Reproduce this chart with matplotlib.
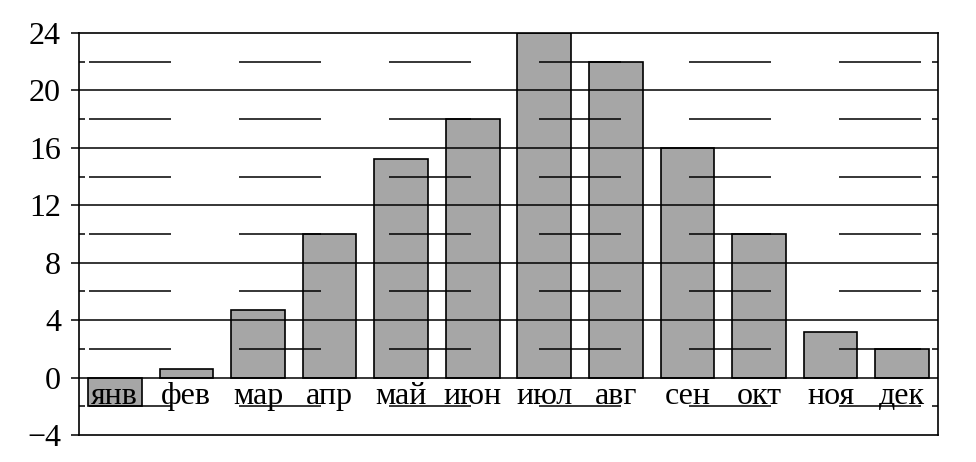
import matplotlib
matplotlib.use("Agg")
import matplotlib.pyplot as plt
import numpy as np

plt.rcParams['font.family'] = ['Liberation Serif', 'DejaVu Serif']
plt.rcParams['lines.scale_dashes'] = False

months = ["янв", "фев", "мар", "апр", "май", "июн",
          "июл", "авг", "сен", "окт", "ноя", "дек"]
temps = [-2, 0.6, 4.7, 10, 15.2, 18, 24, 22, 16, 10, 3.2, 2]
major_ticks = [-4, 0, 4, 8, 12, 16, 20, 24]
minor_ticks = [-2, 2, 6, 10, 14, 18, 22]

fig = plt.figure(figsize=(9.76, 4.62), dpi=100)
ax = fig.add_axes([79/976, 1 - 435/462, (938 - 79)/976, (435 - 33)/462])

x = np.arange(len(months))
ax.bar(x, temps, width=0.75, color="#a6a6a6", edgecolor="black",
       linewidth=1.2, zorder=1)

# solid lines at every 4 degrees, broken lines in between
for y in major_ticks[1:-1]:
    ax.axhline(y, color="black", linewidth=1.1, zorder=2)
px = 0.72  # points per pixel at 100 dpi
for y in minor_ticks:
    ax.axhline(y, color="black", linewidth=1.1, zorder=2,
               linestyle=(140 * px, (82 * px, 68 * px)))

for xi, name in zip(x, months):
    ax.text(xi, -1.3, name, ha="center", va="center", fontsize=23, zorder=3)

ax.set_xlim(-0.5, 11.5)
ax.set_ylim(-4, 24)
ax.set_xticks([])
ax.set_yticks(major_ticks)
ax.set_yticklabels([("\u2212%d" % -t) if t < 0 else str(t) for t in major_ticks])
ax.set_yticks(minor_ticks, minor=True)
ax.tick_params(axis="y", which="major", direction="out", length=6, width=1.1,
               labelsize=23, pad=7)
ax.tick_params(axis="y", which="minor", direction="in", length=4, width=1.1,
               right=True)
for s in ax.spines.values():
    s.set_linewidth(1.2)

fig.savefig("out.png", dpi=100)
